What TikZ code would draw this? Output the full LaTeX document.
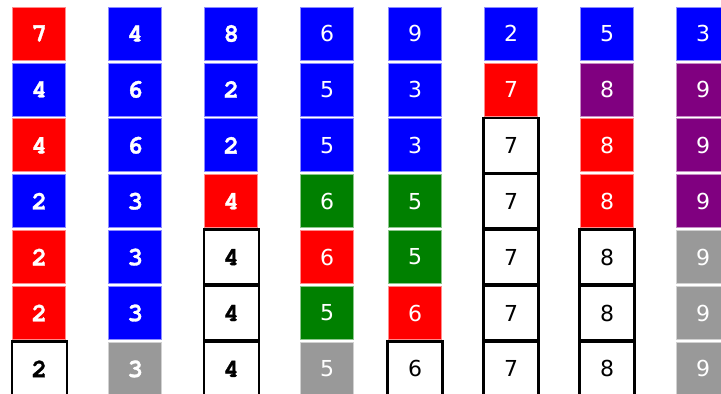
\documentclass[tikz,border=0pt]{standalone}
\usepackage{fontspec}
\newfontfamily\monof[FakeBold=1.2]{texgyrecursor-bold.otf}
\newfontfamily\sansf{DejaVu Sans}
\definecolor{cR}{RGB}{255,0,0}
\definecolor{cB}{RGB}{0,0,255}
\definecolor{cG}{RGB}{0,128,0}
\definecolor{cP}{RGB}{128,0,128}
\definecolor{cY}{RGB}{153,153,153}
\tikzset{
  cell/.style={minimum width=53pt, minimum height=53pt, inner sep=0pt, text=white, line width=0.7pt},
  fR/.style={cell, fill=cR, draw=cR!45!white},
  fB/.style={cell, fill=cB, draw=cB!45!white},
  fG/.style={cell, fill=cG, draw=cG!45!white},
  fP/.style={cell, fill=cP, draw=cP!45!white},
  fY/.style={cell, fill=cY, draw=cY!45!white},
  fW/.style={minimum width=55pt, minimum height=55pt, inner sep=0pt, fill=white, draw=black, line width=2.5pt, text=black},
  mono/.style={font=\monof\fontsize{26}{26}\selectfont},
  sansd/.style={font=\sansf\fontsize{22}{22}\selectfont}
}
\begin{document}
\begin{tikzpicture}[x=1pt,y=1pt]
\useasboundingbox (0,0) rectangle (721,-394);
% column 1
\foreach \r/\v/\s in {1/7/fR,2/4/fB,3/4/fR,4/2/fB,5/2/fR,6/2/fR,7/2/fW}
  \node[\s, mono] (n-1-\r) at (39.3, {-(33.5+55.9*(\r-1))}) {\v};
% column 2
\foreach \r/\v/\s in {1/4/fB,2/6/fB,3/6/fB,4/3/fB,5/3/fB,6/3/fB,7/3/fY}
  \node[\s, mono] (n-2-\r) at (135.2, {-(33.5+55.9*(\r-1))}) {\v};
% column 3
\foreach \r/\v/\s in {1/8/fB,2/2/fB,3/2/fB,4/4/fR,5/4/fW,6/4/fW,7/4/fW}
  \node[\s, mono] (n-3-\r) at (231.3, {-(33.5+55.9*(\r-1))}) {\v};
% column 4
\foreach \r/\v/\s in {1/6/fB,2/5/fB,3/5/fB,4/6/fG,5/6/fR,6/5/fG,7/5/fY}
  \node[\s, sansd] (n-4-\r) at (327, {-(33.5+55.9*(\r-1))}) {\v};
% column 5
\foreach \r/\v/\s in {1/9/fB,2/3/fB,3/3/fB,4/5/fG,5/5/fG,6/6/fR,7/6/fW}
  \node[\s, sansd] (n-5-\r) at (415, {-(33.5+55.9*(\r-1))}) {\v};
% column 6
\foreach \r/\v/\s in {1/2/fB,2/7/fR,3/7/fW,4/7/fW,5/7/fW,6/7/fW,7/7/fW}
  \node[\s, sansd] (n-6-\r) at (511, {-(33.5+55.9*(\r-1))}) {\v};
% column 7
\foreach \r/\v/\s in {1/5/fB,2/8/fP,3/8/fR,4/8/fR,5/8/fW,6/8/fW,7/8/fW}
  \node[\s, sansd] (n-7-\r) at (607, {-(33.5+55.9*(\r-1))}) {\v};
% column 8
\foreach \r/\v/\s in {1/3/fB,2/9/fP,3/9/fP,4/9/fP,5/9/fY,6/9/fY,7/9/fY}
  \node[\s, sansd] (n-8-\r) at (703, {-(33.5+55.9*(\r-1))}) {\v};
\end{tikzpicture}
\end{document}
